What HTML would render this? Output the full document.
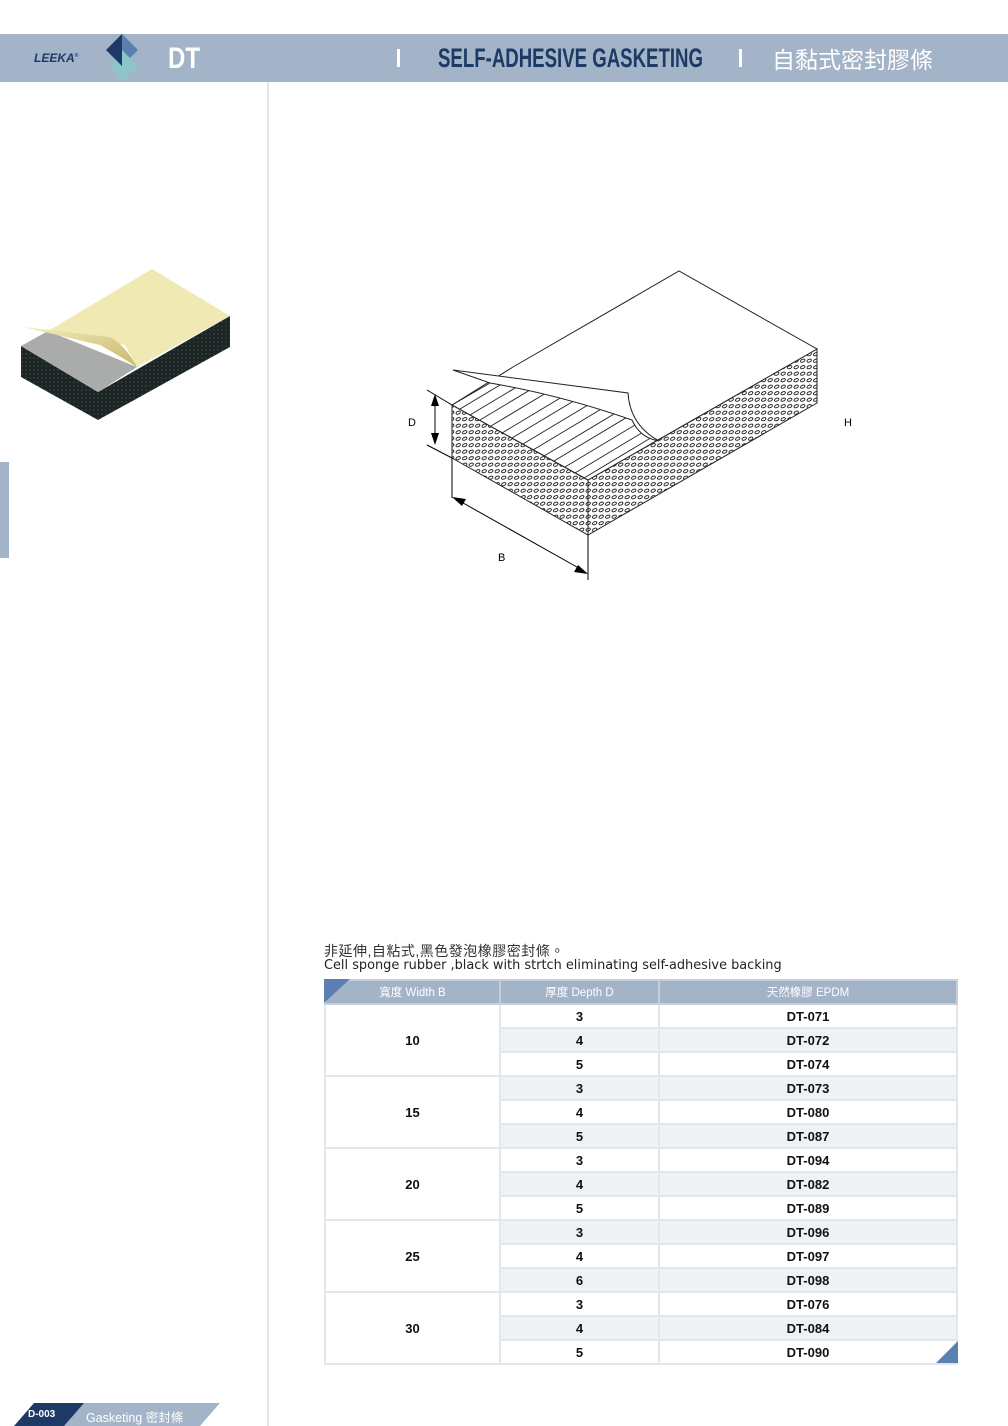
<!DOCTYPE html>
<html><head><meta charset="utf-8"><style>
*{margin:0;padding:0;box-sizing:border-box}
body{width:1008px;height:1426px;position:relative;background:#fff;font-family:"Liberation Sans","Noto Sans CJK TC",sans-serif;overflow:hidden}
.abs{position:absolute}
table{position:absolute;left:324px;top:979px;width:634px;border-collapse:collapse;font-size:13px;font-weight:bold;color:#111}
td,th{height:24px;border:2px solid #e3e7ec;text-align:center;padding:0}
th{background:#a3b4c8;color:#fff;font-weight:normal;font-size:11.5px;border-color:#c4cfdb}
tr.s td.v{background:#eef1f5}
</style></head><body>
<div class="abs" style="left:0;top:34px;width:1008px;height:48px;background:#a3b4c8"></div>
<div class="abs" style="left:34px;top:51px;font-size:12px;font-style:italic;font-weight:bold;color:#1d3a66">LEEKA<sup style="font-size:5px">®</sup></div>
<svg class="abs" style="left:100px;top:34px" width="45" height="48"><polygon points="22,0 38,16 22,32 6,16" fill="#5a7fb0"/><polygon points="22,16 38,32 22,48 10,32" fill="#8cc4c8"/><polygon points="6,16 22,0 22,32" fill="#1d3a66"/></svg>
<div class="abs" style="left:168px;top:42px;font-size:30px;font-weight:bold;color:#fff;transform:scaleX(.8);transform-origin:left">DT</div>
<div class="abs" style="left:397px;top:49px;width:3px;height:18px;background:#fff"></div>
<div class="abs" style="left:438px;top:43px;font-size:27px;font-weight:bold;color:#1d3a66;transform:scaleX(.69);transform-origin:left;white-space:nowrap">SELF-ADHESIVE GASKETING</div>
<div class="abs" style="left:739px;top:49px;width:3px;height:18px;background:#fff"></div>
<div class="abs" style="left:772px;top:41px;font-size:23px;color:#fff">自黏式密封膠條</div>
<div class="abs" style="left:267px;top:82px;width:2px;height:1344px;background:#e2e5ea"></div>
<div class="abs" style="left:0;top:462px;width:9px;height:96px;background:#a3b4c8"></div>

<svg class="abs" style="left:0;top:0" width="1008" height="700">
<defs>
<pattern id="dots" width="6.5" height="6.5" patternUnits="userSpaceOnUse"><ellipse cx="3.2" cy="3.2" rx="2.3" ry="1.4" fill="none" stroke="#222" stroke-width="1" transform="rotate(-25 3.2 3.2)"/></pattern>
<pattern id="dk" width="4" height="4" patternUnits="userSpaceOnUse"><rect width="4" height="4" fill="#1c2424"/><circle cx="2" cy="2" r="0.8" fill="#3c4a4a"/></pattern>
<linearGradient id="cg" x1="0" x2="1" y1="0" y2="1"><stop offset="0" stop-color="#f3ecb8"/><stop offset="1" stop-color="#c8b86e"/></linearGradient>
<clipPath id="ex"><path d="M452,405 L588,480 L659,441 Q630,425 628,393 L490,383 Z"/></clipPath>
</defs>
<!-- thumbnail -->
<polygon points="21,346 98,392 98,420 21,377" fill="url(#dk)"/>
<polygon points="98,392 230,316 230,347 98,420" fill="url(#dk)"/>
<polygon points="21,346 48,331 137,367 98,392" fill="#a9acaa"/>
<polygon points="48,331 152,269 230,316 137,367 125,345" fill="#f1e9b3"/>
<path d="M23,327 L110,337 Q125,345 137,367 Q118,355 100,345 Z" fill="url(#cg)"/>
<!-- main drawing -->
<polygon points="452,405 588,480 588,535 452,458" fill="url(#dots)" stroke="#222"/>
<polygon points="588,480 817,349 817,403 588,535" fill="url(#dots)" stroke="#222"/>
<polygon points="452,405 513,367 679,271 817,349 588,480" fill="#fff" stroke="#222"/>
<g stroke="#222" stroke-width="0.9" clip-path="url(#ex)">
<line x1="460" y1="409" x2="560" y2="349"/><line x1="470" y1="415" x2="570" y2="355"/><line x1="480" y1="420" x2="580" y2="360"/><line x1="491" y1="426" x2="591" y2="366"/><line x1="502" y1="433" x2="602" y2="373"/><line x1="512" y1="438" x2="612" y2="378"/><line x1="523" y1="444" x2="623" y2="384"/><line x1="533" y1="450" x2="633" y2="390"/><line x1="544" y1="456" x2="644" y2="396"/><line x1="554" y1="461" x2="654" y2="401"/><line x1="565" y1="467" x2="665" y2="407"/><line x1="575" y1="473" x2="675" y2="413"/><line x1="584" y1="478" x2="684" y2="418"/>
</g>
<path d="M452,405 L490,383" stroke="#222"/>
<path d="M453,370 L628,393 Q630,425 659,441 Q640,438 632,420 Q560,395 490,383 Z" fill="#fff" stroke="#222"/>
<g stroke="#000" fill="none" stroke-width="1">
<line x1="427" y1="390" x2="452" y2="405"/><line x1="427" y1="445" x2="452" y2="458"/>
<line x1="435" y1="398" x2="435" y2="442"/>
<line x1="452" y1="458" x2="452" y2="498"/><line x1="588" y1="535" x2="588" y2="580"/>
<line x1="456" y1="499" x2="584" y2="571"/>
</g>
<polygon points="435,394 431,406 439,406" fill="#000"/><polygon points="435,445 431,433 439,433" fill="#000"/>
<polygon points="452,497 466,499 462,506" fill="#000"/><polygon points="588,574 574,572 578,565" fill="#000"/>
<text x="408" y="426" font-size="11" font-family="Liberation Sans">D</text>
<text x="498" y="561" font-size="11" font-family="Liberation Sans">B</text>
<text x="844" y="426" font-size="11" font-family="Liberation Sans">H</text>
</svg>

<div class="abs" style="left:324px;top:941px;font-size:14px;color:#333;letter-spacing:0.5px">非延伸,自粘式,黑色發泡橡膠密封條。</div>
<div class="abs" style="left:324px;top:958px;color:#222;font-family:'DejaVu Sans',sans-serif;font-size:12.9px;white-space:nowrap">Cell sponge rubber ,black with strtch eliminating self-adhesive backing</div>
<table>
<tr><th style="width:175px">寬度 Width B</th><th style="width:159px">厚度 Depth D</th><th>天然橡膠 EPDM</th></tr>
<tr><td rowspan="3">10</td><td class="v">3</td><td class="v">DT-071</td></tr>
<tr class="s"><td class="v">4</td><td class="v">DT-072</td></tr>
<tr><td class="v">5</td><td class="v">DT-074</td></tr>
<tr class="s"><td rowspan="3">15</td><td class="v">3</td><td class="v">DT-073</td></tr>
<tr><td class="v">4</td><td class="v">DT-080</td></tr>
<tr class="s"><td class="v">5</td><td class="v">DT-087</td></tr>
<tr><td rowspan="3">20</td><td class="v">3</td><td class="v">DT-094</td></tr>
<tr class="s"><td class="v">4</td><td class="v">DT-082</td></tr>
<tr><td class="v">5</td><td class="v">DT-089</td></tr>
<tr class="s"><td rowspan="3">25</td><td class="v">3</td><td class="v">DT-096</td></tr>
<tr><td class="v">4</td><td class="v">DT-097</td></tr>
<tr class="s"><td class="v">6</td><td class="v">DT-098</td></tr>
<tr><td rowspan="3">30</td><td class="v">3</td><td class="v">DT-076</td></tr>
<tr class="s"><td class="v">4</td><td class="v">DT-084</td></tr>
<tr><td class="v">5</td><td class="v">DT-090</td></tr>
</table>
<svg class="abs" style="left:324px;top:979px" width="26" height="24"><polygon points="0,0 26,0 0,24" fill="#5a7fb0"/></svg>
<svg class="abs" style="left:936px;top:1341px" width="22" height="22"><polygon points="22,0 22,22 0,22" fill="#5a7fb0"/></svg>

<svg class="abs" style="left:0;top:1403px" width="230" height="23"><polygon points="20,23 40,0 220,0 200,23" fill="#a3b4c8"/><polygon points="14,23 34,0 84,0 64,23" fill="#1d3a66"/></svg>
<div class="abs" style="left:28px;top:1409px;font-size:10px;font-weight:bold;color:#fff">D-003</div>
<div class="abs" style="left:86px;top:1407px;font-size:12.5px;color:#fff">Gasketing 密封條</div>
</body></html>
